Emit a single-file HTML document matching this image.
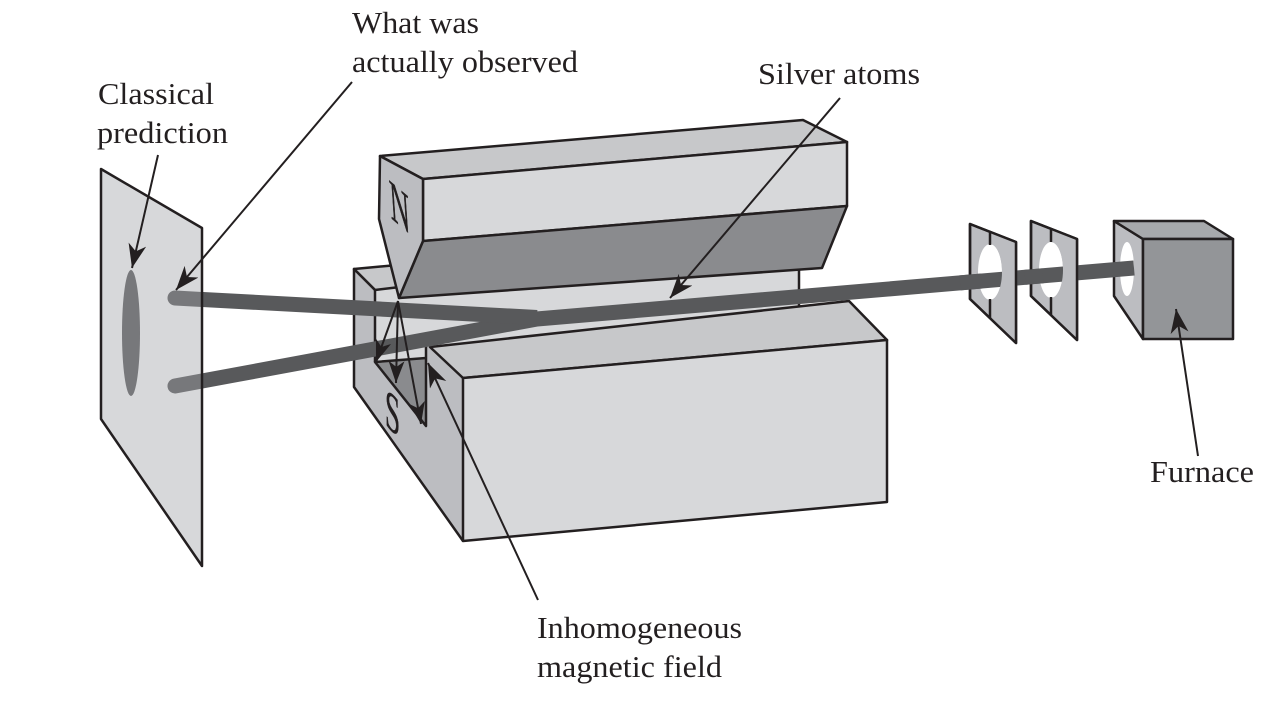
<!DOCTYPE html>
<html>
<head>
<meta charset="utf-8">
<style>
html,body{margin:0;padding:0;background:#fff;width:1282px;height:708px;overflow:hidden}
svg{display:block}
text{font-family:"Liberation Serif",serif;font-size:31px;fill:#231f20}
</style>
</head>
<body>
<svg width="1282" height="708" viewBox="0 0 1282 708" xmlns="http://www.w3.org/2000/svg">
<defs>
<marker id="a" markerUnits="userSpaceOnUse" markerWidth="30" markerHeight="22" refX="24" refY="9" orient="auto" viewBox="0 0 30 22">
<path d="M24,9 L0,0 L7,9 L0,18 Z" fill="#231f20"/>
</marker>
<marker id="b" markerUnits="userSpaceOnUse" markerWidth="26" markerHeight="20" refX="22" refY="8" orient="auto" viewBox="0 0 26 20">
<path d="M22,8 L0,0 L6,8 L0,16 Z" fill="#231f20"/>
</marker>
<clipPath id="onscreen"><rect x="150" y="270" width="52" height="140"/></clipPath>
<clipPath id="s1"><rect x="990" y="200" width="40" height="160"/></clipPath>
<clipPath id="s2"><rect x="1051" y="200" width="40" height="160"/></clipPath>
</defs>

<g stroke="#231f20" stroke-width="2.5" stroke-linejoin="round">
<!-- lower magnet back -->
<polygon points="375,290 400,287 799,262 799,306 430,347 426,357 375,362" fill="#d7d8da" stroke="none"/>
<polygon points="354,269 392,265.500 400,287 375,290" fill="#c7c8ca"/>
<polygon points="354,269 375,290 375,362 426,426 426,347 430,347 463,378 463,541 354,387" fill="#bcbdc1" stroke="none"/>
<polyline points="375,290 354,269 354,387 463,541" fill="none"/>
<line x1="375" y1="290" x2="375" y2="362"/>
<line x1="799" y1="265" x2="799" y2="306"/>
<polygon points="375,362 426,357 426,426" fill="#8a8b8e" stroke="none"/>
<polyline points="426,358 375,362 426,426 426,347" fill="none"/>
<!-- lower magnet front -->
<polygon points="430,347 849,301 887,340 463,378" fill="#c7c8ca"/>
<polygon points="463,378 887,340 887,502 463,541" fill="#d7d8da"/>
<!-- upper magnet -->
<polygon points="380,156 803,120 847,142 423,179" fill="#c7c8ca"/>
<polygon points="423,179 847,142 847,206 423,241" fill="#d7d8da"/>
<polygon points="423,241 847,206 822,268 399,298" fill="#8a8b8e"/>
<polygon points="380,156 423,179 423,241 399,298 379,219" fill="#bcbdc1"/>
<!-- slits and furnace -->
<path fill-rule="evenodd" d="M970,224 L1016,242 L1016,343 L970,299 Z M990,244 a12,28 0 1,0 0.01,0 Z" fill="#bcbdc1" stroke="none"/>
<path fill-rule="evenodd" d="M1031,221 L1077,239 L1077,340 L1031,296 Z M1051,242 a12,28 0 1,0 0.01,0 Z" fill="#bcbdc1" stroke="none"/>
<polygon points="970,224 1016,242 1016,343 970,299" fill="none"/>
<polygon points="1031,221 1077,239 1077,340 1031,296" fill="none"/>
<polygon points="1114,221 1143,239 1143,339 1114,296" fill="#bcbdc1"/>
<polygon points="1114,221 1204,221 1233,239 1143,239" fill="#a7a9ac"/>
<polygon points="1143,239 1233,239 1233,339 1143,339" fill="#939598"/>
</g>
<ellipse cx="1127" cy="269" rx="7" ry="27" fill="#fff"/>

<!-- beam -->
<g fill="none" stroke="#58595b" stroke-width="15" stroke-linejoin="miter">
<polyline points="175,386 537,319 1134,268"/>
<line x1="175" y1="298" x2="537" y2="317.500"/>
</g>
<!-- right parts of slits pass in front of the beam -->
<g stroke="#231f20" stroke-width="2.500" stroke-linejoin="round">
<path clip-path="url(#s1)" fill-rule="evenodd" d="M970,224 L1016,242 L1016,343 L970,299 Z M990,244 a12,28 0 1,0 0.01,0 Z" fill="#bcbdc1" stroke="none"/>
<path clip-path="url(#s2)" fill-rule="evenodd" d="M1031,221 L1077,239 L1077,340 L1031,296 Z M1051,242 a12,28 0 1,0 0.01,0 Z" fill="#bcbdc1" stroke="none"/>
<polygon points="970,224 1016,242 1016,343 970,299" fill="none"/>
<polygon points="1031,221 1077,239 1077,340 1031,296" fill="none"/>
<line x1="990" y1="232" x2="990" y2="245"/>
<line x1="990" y1="299" x2="990" y2="318"/>
<line x1="1051" y1="229" x2="1051" y2="242"/>
<line x1="1051" y1="297" x2="1051" y2="315"/>
</g>
<!-- beam over the left edges of the slits -->
<line x1="960" y1="282.900" x2="982" y2="281" stroke="#58595b" stroke-width="15"/>
<line x1="1025" y1="277.300" x2="1043" y2="275.800" stroke="#58595b" stroke-width="15"/>

<!-- screen -->
<polygon points="101,169 202,228 202,566 101,419" fill="#d7d8da"/>
<g clip-path="url(#onscreen)" fill="none" stroke="#77787b" stroke-width="15" stroke-linecap="round">
<line x1="175" y1="386" x2="240" y2="374"/>
<line x1="175" y1="298" x2="240" y2="301.500"/>
</g>
<polygon points="101,169 202,228 202,566 101,419" fill="none" stroke="#231f20" stroke-width="2.500" stroke-linejoin="round"/>
<ellipse cx="131" cy="333" rx="9" ry="63" fill="#77787b"/>

<!-- leaders -->
<g stroke="#231f20" stroke-width="2" fill="none">
<line x1="158" y1="155" x2="132" y2="268" marker-end="url(#a)"/>
<line x1="352" y1="82" x2="176" y2="290" marker-end="url(#a)"/>
<line x1="840" y1="98" x2="670" y2="298" marker-end="url(#a)"/>
<line x1="1198" y1="456" x2="1176" y2="309" marker-end="url(#a)"/>
<line x1="538" y1="600" x2="428" y2="363" marker-end="url(#a)"/>
<line x1="398" y1="301" x2="376" y2="362" marker-end="url(#b)"/>
<line x1="398" y1="301" x2="396" y2="383" marker-end="url(#b)"/>
<line x1="398" y1="301" x2="421" y2="424" marker-end="url(#b)"/>
</g>

<!-- pole letters -->
<text transform="translate(391,218) matrix(.69,.59,.1,1.46,0,0)" style="font-size:40px;stroke:#231f20;stroke-width:.5px">N</text>
<text transform="translate(385,425) matrix(.68,.59,0,1.4,0,0)" style="font-size:40px;stroke:#231f20;stroke-width:.5px">S</text>

<!-- labels -->
<text x="352" y="33" textLength="127" lengthAdjust="spacingAndGlyphs">What was</text>
<text x="352" y="72" textLength="226" lengthAdjust="spacingAndGlyphs">actually observed</text>
<text x="758" y="84" textLength="162" lengthAdjust="spacingAndGlyphs">Silver atoms</text>
<text x="98" y="104" textLength="116" lengthAdjust="spacingAndGlyphs">Classical</text>
<text x="97" y="143" textLength="131" lengthAdjust="spacingAndGlyphs">prediction</text>
<text x="1150" y="482" textLength="104" lengthAdjust="spacingAndGlyphs">Furnace</text>
<text x="537" y="638" textLength="205" lengthAdjust="spacingAndGlyphs">Inhomogeneous</text>
<text x="537" y="677" textLength="185" lengthAdjust="spacingAndGlyphs">magnetic field</text>
</svg>
</body>
</html>
